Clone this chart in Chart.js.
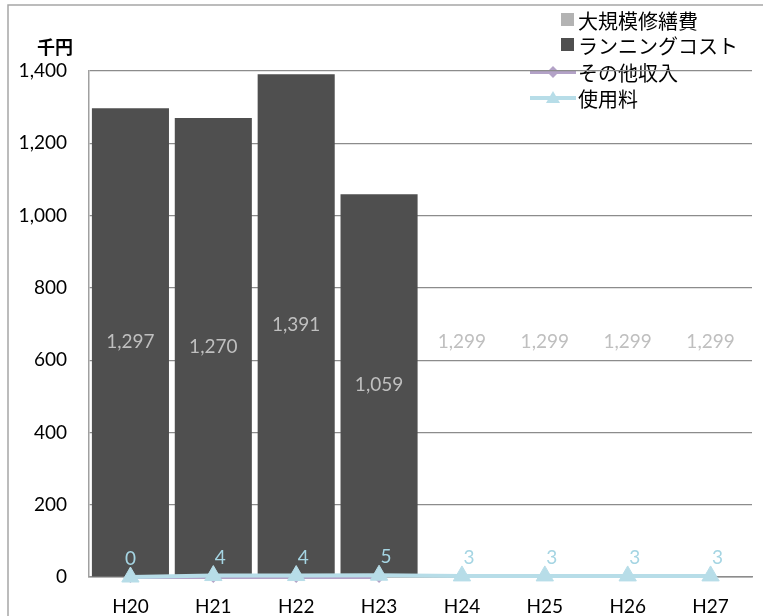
<!DOCTYPE html>
<html><head><meta charset="utf-8">
<script src="https://cdn.jsdelivr.net/npm/chart.js@4"></script>
<style>html,body{margin:0;padding:0;background:#fff}#wrap{width:763px;height:616px;position:relative}</style>
</head><body><div id="wrap"><canvas id="c" width="763" height="616"></canvas></div>
<script>
// ---- data ----
const categories = ['H20','H21','H22','H23','H24','H25','H26','H27'];
const majorRepairCost = [null,null,null,null,null,null,null,null]; // 大規模修繕費
const runningCost = [1297,1270,1391,1059,1299,1299,1299,1299];     // ランニングコスト
const otherIncome = [0,0,0,0,null,null,null,null];                  // その他収入
const usageFee = [0,4,4,5,3,3,3,3];                                 // 使用料
const actualYearCount = 4; // H20-H23 actual, after that planned
const yTickMax = 1400, yTickStep = 200;
const yTitle = '千円';

const CJK = '"Noto Sans CJK JP", sans-serif';
const LAT = 'Lato, "Noto Sans", sans-serif';
const fmt = v => v.toLocaleString('en-US');

const runColors = runningCost.map((v,i) => i < actualYearCount ? '#4f4f4f' : 'rgba(0,0,0,0)');

const deco = {
  id: 'deco',
  beforeDraw(chart) {
    const ctx = chart.ctx;
    ctx.save();
    ctx.strokeStyle = '#a6a6a6'; ctx.lineWidth = 1.5;
    ctx.strokeRect(8, 5, 900, 900);
    ctx.fillStyle = '#000'; ctx.font = 'bold 18px ' + CJK;
    ctx.textAlign = 'center'; ctx.textBaseline = 'middle';
    ctx.fillText(yTitle, 55, 47);
    const rows = [20, 45, 72, 98];
    ctx.textAlign = 'left'; ctx.font = '20px ' + CJK;
    chart.data.datasets.forEach((ds, i) => {
      const y = rows[i];
      if (ds.type === 'line') {
        ctx.strokeStyle = ds.borderColor; ctx.lineWidth = 4;
        ctx.beginPath(); ctx.moveTo(530, y); ctx.lineTo(576, y); ctx.stroke();
        ctx.fillStyle = ds.borderColor;
        ctx.beginPath();
        if (ds.pointStyle === 'triangle') {
          ctx.moveTo(553, y-7); ctx.lineTo(560, y+5); ctx.lineTo(546, y+5);
        } else {
          ctx.moveTo(553, y-6); ctx.lineTo(559, y); ctx.lineTo(553, y+6); ctx.lineTo(547, y);
        }
        ctx.closePath(); ctx.fill();
      } else {
        ctx.fillStyle = ds.legendColor;
        ctx.fillRect(561, y-7, 13, 13);
      }
      ctx.fillStyle = '#000';
      ctx.fillText(ds.label, 578, y + 1);
    });
    ctx.restore();
  },
  afterDatasetsDraw(chart) {
    const ctx = chart.ctx;
    ctx.save();
    ctx.textAlign = 'center'; ctx.textBaseline = 'middle';
    ctx.font = '19px ' + LAT;
    const bm = chart.getDatasetMeta(1);
    bm.data.forEach((el, i) => {
      const v = runningCost[i]; if (v == null) return;
      ctx.fillStyle = '#bfbfbf';
      ctx.fillText(fmt(v), el.x, (el.y + el.base) / 2);
    });
    const lm = chart.getDatasetMeta(3);
    lm.data.forEach((el, i) => {
      const v = usageFee[i]; if (v == null) return;
      ctx.fillStyle = '#a5d5e3';
      ctx.fillText(fmt(v), el.x + (i ? 7 : 0), el.y - 18);
    });
    ctx.restore();
  }
};

new Chart(document.getElementById('c'), {
  data: {
    labels: categories,
    datasets: [
      { type: 'bar', label: '大規模修繕費', data: majorRepairCost, backgroundColor: '#b3b3b3', legendColor: '#b3b3b3',
        grouped: false, barPercentage: 0.93, categoryPercentage: 1.0, order: 3 },
      { type: 'bar', label: 'ランニングコスト', data: runningCost, backgroundColor: runColors, legendColor: '#4f4f4f',
        grouped: false, barPercentage: 0.93, categoryPercentage: 1.0, order: 2 },
      { type: 'line', label: 'その他収入', data: otherIncome, borderColor: '#b3a2c7', backgroundColor: '#b3a2c7', clip: false,
        borderWidth: 4, pointStyle: 'rectRot', pointRadius: 6, pointBackgroundColor: '#b3a2c7', pointBorderWidth: 0, order: 1 },
      { type: 'line', label: '使用料', data: usageFee, borderColor: '#b7dde8', backgroundColor: '#b7dde8', clip: false,
        borderWidth: 4, pointStyle: 'triangle', pointRadius: 10, pointBackgroundColor: '#b7dde8', pointBorderColor: '#b7dde8', pointBorderWidth: 1, order: 0 }
    ]
  },
  options: {
    responsive: false, animation: false, devicePixelRatio: 1,
    layout: { padding: { top: 71, right: 11, left: 0, bottom: 0 } },
    plugins: { legend: { display: false }, tooltip: { enabled: false } },
    scales: {
      x: {
        offset: true,
        grid: { display: false },
        border: { color: '#8c8c8c', width: 1.5, z: -1 },
        ticks: { color: '#000', font: { family: LAT, size: 19 }, padding: 10 },
        afterFit(s) { s.height = 39; }
      },
      y: {
        min: 0, max: yTickMax,
        grid: { color: '#8c8c8c', lineWidth: 1.2, drawTicks: false },
        border: { color: '#a0a0a0', width: 1.5 },
        ticks: { stepSize: yTickStep, color: '#000', font: { family: LAT, size: 19 }, padding: 22, callback: v => fmt(v) },
        afterFit(s) { s.width = 89; }
      }
    }
  },
  plugins: [deco]
});
</script></body></html>
